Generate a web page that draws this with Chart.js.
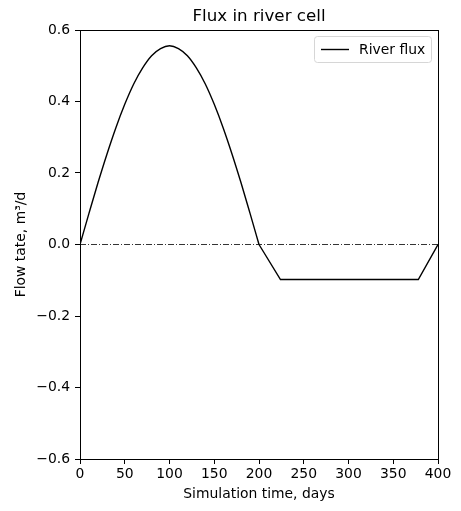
<!DOCTYPE html>
<html>
<head>
<meta charset="utf-8">
<script src="https://cdn.jsdelivr.net/npm/chart.js@4"></script>
<style>
  html, body { margin: 0; padding: 0; background: #fff; }
  #wrap { width: 461px; height: 511px; }
</style>
</head>
<body>
<div id="wrap"><canvas id="chart" width="461" height="511"></canvas></div>
<script>
// values
// smooth rising/falling part (0-200 days)
const daysWave = [0, 10, 20, 30, 40, 50, 60, 70, 80, 90, 100, 110, 120, 130, 140, 150, 160, 170, 180, 190, 200];
const fluxWave = [0, 0.087, 0.172, 0.252, 0.326, 0.392, 0.449, 0.494, 0.528, 0.548, 0.556, 0.548, 0.528, 0.494, 0.449, 0.392, 0.326, 0.252, 0.172, 0.087, 0];
// straight segments afterwards (200-400 days)
const daysFlat = [200, 224, 300, 378, 400];
const fluxFlat = [0, -0.098, -0.098, -0.098, 0];
const zeroLineX = [0, 400];
const xTicks = [0, 50, 100, 150, 200, 250, 300, 350, 400];
const yTicks = [-0.6, -0.4, -0.2, 0, 0.2, 0.4, 0.6];

const FONT = 'DejaVu Sans';
const TICK_SIZE = 13.9;

// frame, title and legend box drawn like the matplotlib figure
const decorations = {
  id: 'decorations',
  afterDraw(chart) {
    const { ctx, chartArea: a } = chart;
    ctx.save();
    ctx.strokeStyle = '#000';
    ctx.lineWidth = 1;
    ctx.strokeRect(Math.round(a.left) + 0.5, Math.round(a.top) + 0.5,
      Math.round(a.right - a.left), Math.round(a.bottom - a.top));

    ctx.fillStyle = '#000';
    ctx.font = '16.7px "' + FONT + '"';
    ctx.textAlign = 'center';
    ctx.textBaseline = 'middle';
    ctx.fillText('Flux in river cell', (a.left + a.right) / 2, 17);

    // legend
    const bx = 314.5, by = 36.5, bw = 117, bh = 26;
    ctx.beginPath();
    ctx.roundRect(bx, by, bw, bh, 3);
    ctx.fillStyle = 'rgba(255,255,255,0.8)';
    ctx.fill();
    ctx.strokeStyle = '#d6d6d6';
    ctx.lineWidth = 1;
    ctx.stroke();
    ctx.beginPath();
    ctx.moveTo(321, 49.5);
    ctx.lineTo(349, 49.5);
    ctx.strokeStyle = '#000';
    ctx.lineWidth = 1.4;
    ctx.stroke();
    ctx.fillStyle = '#000';
    ctx.font = TICK_SIZE + 'px "' + FONT + '"';
    ctx.textAlign = 'left';
    ctx.textBaseline = 'middle';
    ctx.fillText('River flux', 359, 50);
    ctx.restore();
  }
};

new Chart(document.getElementById('chart'), {
  type: 'line',
  data: {
    datasets: [
      {
        label: 'River flux',
        data: daysWave.map((d, i) => ({ x: d, y: fluxWave[i] })),
        borderColor: '#000',
        borderWidth: 1.4,
        pointRadius: 0,
        cubicInterpolationMode: 'monotone',
        fill: false
      },
      {
        label: 'River flux (flat)',
        data: daysFlat.map((d, i) => ({ x: d, y: fluxFlat[i] })),
        borderColor: '#000',
        borderWidth: 1.4,
        pointRadius: 0,
        tension: 0,
        fill: false
      },
      {
        label: 'zero',
        data: zeroLineX.map(d => ({ x: d, y: 0 })),
        borderColor: '#000',
        borderWidth: 0.8,
        borderDash: [6, 2, 1, 2],
        pointRadius: 0
      }
    ]
  },
  options: {
    responsive: false,
    animation: false,
    layout: { padding: { left: 0, right: 23, top: 30, bottom: 0 } },
    plugins: {
      legend: { display: false },
      title: { display: false },
      tooltip: { enabled: false }
    },
    scales: {
      x: {
        type: 'linear',
        min: 0,
        max: 400,
        afterFit(s) { s.height = 52; },
        afterBuildTicks(s) { s.ticks = xTicks.map(v => ({ value: v })); },
        border: { color: '#000', width: 1 },
        grid: { drawOnChartArea: false, drawTicks: true, tickLength: 5, color: '#000' },
        ticks: {
          color: '#000',
          font: { family: FONT, size: TICK_SIZE },
          padding: 2,
          maxRotation: 0,
          autoSkip: false,
          callback: v => String(v)
        },
        title: {
          display: true,
          text: 'Simulation time, days',
          color: '#000',
          font: { family: FONT, size: TICK_SIZE },
          padding: { top: 0, bottom: 8 }
        }
      },
      y: {
        type: 'linear',
        min: -0.6,
        max: 0.6,
        afterFit(s) { s.width = 80; },
        afterBuildTicks(s) { s.ticks = yTicks.map(v => ({ value: v })); },
        border: { color: '#000', width: 1 },
        grid: { drawOnChartArea: false, drawTicks: true, tickLength: 5, color: '#000' },
        ticks: {
          color: '#000',
          font: { family: FONT, size: TICK_SIZE },
          padding: 5,
          autoSkip: false,
          callback: v => v.toFixed(1).replace('-', '\u2212')
        },
        title: {
          display: true,
          text: 'Flow tate, m\u00b3/d',
          color: '#000',
          font: { family: FONT, size: TICK_SIZE },
          padding: { top: 13, bottom: 0 }
        }
      }
    }
  },
  plugins: [decorations]
});
</script>
</body>
</html>
